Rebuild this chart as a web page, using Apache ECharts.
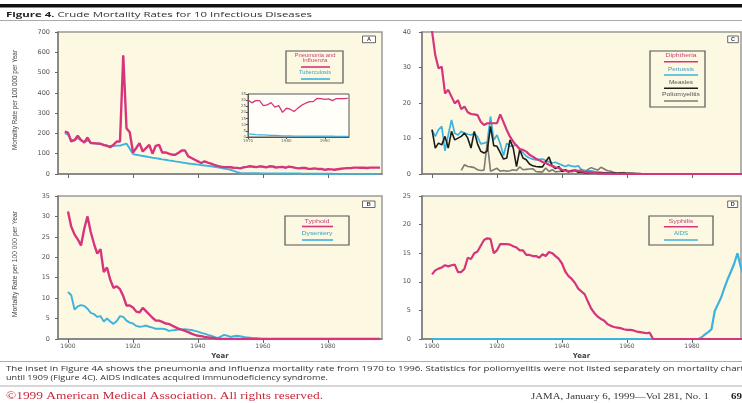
<!DOCTYPE html>
<html><head><meta charset="utf-8">
<script src="https://cdn.jsdelivr.net/npm/echarts@6/dist/echarts.min.js"></script>
<style>html,body{margin:0;padding:0;background:#fff}#c{width:742px;height:403px}</style>
</head><body><div id="c"></div>
<script>
// ---------- DATA ----------
const xTickYears = [1900, 1920, 1940, 1960, 1980];
const insetTickYears = [1970, 1980, 1990];
const endYear = 1996;

// Panel A: pneumonia & influenza, tuberculosis (from 1899 to 1969), inset 1970-1996
const pnStart = 1899;
const pneumonia = [209,204,160,168,188,168,155,180,152,152,
  150,149,142,139,132,145,160,160,585,226,
  206,106,128,152,111,128,144,100,139,144,
  106,106,100,95,95,105,116,116,87,79,
  70,62,54,62,56,51,45,40,36,34,
  34,33,31,30,28,33,35,38,36,34,
  38,36,33,38,37,32,34,35,31,36,34];
const tuberculosis = [200,195,168,165,178,165,158,165,155,150,
  150,148,145,140,137,138,140,140,145,150,
  125,98,95,92,89,86,83,80,78,75,
  72,70,67,65,62,60,57,55,52,50,
  48,46,44,42,40,38,36,33,30,27,
  24,21,15,9,5,4.5,4.2,4.0,3.8,3.6,
  3.4,3.3,3.2,3.1,3.0,2.9,2.8,2.8,2.7,2.7,2.6];
const insetStart = 1970;
const insetPneumonia = [30.2,27.8,29.6,29.6,25.5,26.1,28.0,24.3,25.5,20.0,
  23.4,22.6,20.8,23.5,25.9,27.5,28.8,28.8,31.5,31.3,
  30.7,31.0,29.6,31.3,31.3,31.3,31.5];
const insetTuberculosis = [2.6,2.3,2.0,1.8,1.7,1.6,1.4,1.3,1.2,1.0,
  0.9,0.9,0.8,0.8,0.7,0.7,0.7,0.7,0.7,0.7,
  0.7,0.7,0.7,0.6,0.6,0.5,0.5];

// Panel B (from 1900)
const typhoid = [31.2,27.5,25.6,24.4,22.9,27.0,30.0,26.2,23.3,20.9,
  22.0,16.4,17.5,14.5,12.5,12.9,12.2,10.5,8.2,8.2,
  7.7,6.7,6.5,7.6,6.8,6.0,5.2,4.5,4.5,4.2,
  3.8,3.7,3.3,2.9,2.5,2.3,2.0,1.7,1.3,1.0,
  0.8,0.7,0.5,0.4,0.3,0.2,0.1,0];
const dysentery = [11.5,10.7,7.2,8.0,8.3,8.1,7.4,6.4,6.1,5.4,
  5.6,4.3,5.0,4.3,3.7,4.4,5.6,5.4,4.5,4.0,
  3.8,3.2,3.0,3.1,3.3,3.0,2.8,2.5,2.5,2.5,
  2.4,2.0,2.1,2.2,2.3,2.3,2.4,2.3,2.2,2.0,
  1.8,1.5,1.3,1.0,0.8,0.5,0.2,0.6,1.0,0.8,
  0.5,0.7,0.8,0.7,0.5,0.4,0.3,0.2,0.2,0.1,0];

// Panel C (from 1900; poliomyelitis from 1909)
const diphtheria = [40.3,33.5,29.8,30.2,22.7,23.7,21.8,19.9,20.8,18.3,
  19.0,17.4,16.9,16.8,16.6,14.7,13.8,14.3,14.3,14.3,
  14.3,16.8,14.6,12.4,10.5,9.1,8.0,7.0,6.8,6.3,
  5.4,4.9,4.3,3.9,3.4,3.1,2.6,2.3,1.9,1.7,
  1.2,1.0,0.8,0.7,1.0,0.9,0.7,0.6,0.5,0.4,
  0.3,0.2,0.2,0.1,0.1,0.1,0];
const pertussis = [12.4,10.6,12.5,13.4,6.5,11.0,15.2,11.5,11.0,12.0,
  11.5,11.2,11.0,11.5,10.5,8.5,8.7,9.0,16.2,9.6,
  11.0,8.5,5.2,8.7,7.8,8.0,8.2,6.8,6.0,5.0,
  4.5,4.2,4.0,4.1,4.2,3.8,3.4,3.1,3.3,2.9,
  2.5,2.1,2.5,2.2,2.1,2.3,1.2,1.0,0.9,0.9,
  0.7,0.5,0.4,0.4,0.3,0.3,0.2,0.1,0.1,0.1,0];
const measles = [12.5,7.3,8.7,8.2,10.6,7.3,12.0,9.6,10.1,10.6,
  11.5,10.1,7.3,12.0,8.5,6.4,5.9,6.5,13.4,8.0,
  7.8,6.0,4.2,4.5,9.6,7.3,2.1,6.8,4.5,4.0,
  2.8,2.3,2.1,2.0,2.0,3.5,4.8,2.2,1.5,2.1,
  0.7,1.2,0.7,1.0,1.0,0.5,0.5,0.4,0.4,0.4,
  0.3,0.4,0.4,0.3,0.3,0.2,0.3,0.2,0.3,0.2,
  0.2,0.2,0.2,0.1,0.1,0];
const polioStart = 1909;
const poliomyelitis = [1.0,2.6,2.1,2.0,1.8,1.2,1.0,1.1,9.0,0.8,
  1.2,1.6,0.8,1.0,0.8,0.9,1.2,1.0,2.0,1.2,
  1.3,1.4,1.5,0.7,0.6,0.6,1.7,0.7,1.2,0.6,
  0.7,0.8,1.0,0.5,0.9,1.1,0.8,1.3,0.4,1.3,
  1.8,1.4,1.1,1.9,1.4,0.9,0.8,0.4,0.2,0.2,
  0.4,0.1,0.1,0];

// Panel D (from 1900)
const syphilis = [11.3,12.0,12.3,12.5,12.9,12.7,12.9,13.0,11.7,11.7,
  12.3,14.2,14.0,15.0,15.3,16.3,17.3,17.6,17.5,15.0,
  15.5,16.6,16.6,16.6,16.5,16.2,16.0,15.5,15.5,14.7,
  14.7,14.5,14.5,14.2,14.8,14.5,15.2,15.0,14.5,14.0,
  13.2,11.8,11.0,10.5,9.8,8.8,8.3,7.8,6.5,5.3,
  4.5,3.9,3.5,3.2,2.6,2.3,2.1,2.0,1.9,1.7,
  1.6,1.6,1.5,1.3,1.2,1.1,1.0,1.1,0];
const aidsYears = [1900,1982,1983,1984,1985,1986,1987,1988,1989,1990,1991,1992,1993,1994,1995,1996];
const aids = [0,0,0.3,0.8,1.2,1.7,4.9,6.1,7.3,9.0,10.5,11.8,13.2,15.0,12.6,11.0];

// ---------- helpers ----------
function seq(start, vals) {
  const d = vals.map((v, i) => [start + i, v]);
  if (vals[vals.length - 1] === 0 && d[d.length - 1][0] < endYear) d.push([endYear, 0]);
  return d;
}
const PINK = '#d6357c', BLUE = '#3cb3de', BLACK = '#1c1c1c', GRAY = '#7c7c74';
const CREAM = '#fdf8e1';
const AXC = '#7c7c7c';

const xMinAB = 1900 - 10 / 3.25;
const grids = [
  {left: 58, top: 32, width: 324, height: 142},
  {left: 58, top: 196, width: 324, height: 143},
  {left: 422, top: 32, width: 319, height: 142},
  {left: 422, top: 196, width: 319, height: 143},
  {left: 248, top: 94, width: 101, height: 43}
].map((g, i) => Object.assign(g, {show: true, backgroundColor: i === 4 ? '#fffef8' : CREAM,
  borderColor: i === 4 ? '#555' : '#999', borderWidth: i === 4 ? 1 : 1.5, containLabel: false}));

function mkX(gi, width, labels) {
  return {type: 'value', gridIndex: gi, min: xMinAB, max: xMinAB + width / 3.25,
    axisLine: {show: true, onZero: false, lineStyle: {color: AXC, width: 1.5}},
    axisTick: {show: true, customValues: xTickYears, length: 4, lineStyle: {color: '#666', width: 1}},
    axisLabel: {show: labels, customValues: xTickYears, fontSize: 6, fontFamily: 'DejaVu Sans', color: '#555', margin: 4, formatter: v => String(v)},
    splitLine: {show: false},
    name: labels ? 'Year' : '', nameLocation: 'middle', nameGap: 14,
    nameTextStyle: {fontSize: 7, fontFamily: 'DejaVu Sans', fontWeight: 'bold', color: '#444'}};
}
function mkY(gi, max, interval, margin) {
  return {type: 'value', gridIndex: gi, min: 0, max, interval,
    axisLine: {show: true, lineStyle: {color: AXC, width: 1.5}},
    axisTick: {show: true, length: 3, lineStyle: {color: '#666', width: 1}},
    axisLabel: {fontSize: 6.5, fontFamily: 'DejaVu Sans', color: '#555', margin},
    splitLine: {show: false}};
}
function line(gi, data, color, width, z) {
  return {type: 'line', xAxisIndex: gi, yAxisIndex: gi, data, showSymbol: false, symbol: 'none',
    lineStyle: {color, width}, z: z || 2, animation: false, silent: true, clip: true};
}

// text measuring for fitted graphic text
const mctx = document.createElement('canvas').getContext('2d');
function txt(text, x, y, width, o) {
  o = o || {};
  const size = o.size || 5, fam = o.family || 'Liberation Sans', weight = o.weight || 'normal';
  mctx.font = weight + ' ' + size + 'px ' + fam;
  const w = mctx.measureText(text).width;
  return {type: 'text', x, y, rotation: o.rotation || 0, scaleX: width / w, z: 100,
    style: {text, fontSize: size, fontFamily: fam, fontWeight: weight, fill: o.fill || '#444',
      align: o.align || 'center', textAlign: o.align || 'center', verticalAlign: 'middle', textVerticalAlign: 'middle'}};
}
function seg(x1, x2, y, color, w) {
  return {type: 'line', z: 100, shape: {x1, y1: y, x2, y2: y}, style: {stroke: color, lineWidth: w || 1.6}};
}
function box(x, y, w, h, fill, stroke, lw) {
  return {type: 'rect', z: 99, shape: {x, y, width: w, height: h}, style: {fill: fill || CREAM, stroke: stroke || '#555', lineWidth: lw || 1.2}};
}
const pinkT = '#c4487c', blueT = '#3d9cc6', darkT = '#555';

const graphics = [
  {type: 'rect', shape: {x: 0, y: 4, width: 742, height: 3.6}, style: {fill: '#111'}},
  seg(0, 742, 20.5, '#aaa', 1),
  (function () {
    const size = 7.5, fam = 'Open Sans';
    mctx.font = 'bold ' + size + 'px ' + fam; const w1 = mctx.measureText('Figure 4.').width;
    mctx.font = 'normal ' + size + 'px ' + fam; const w2 = mctx.measureText(' Crude Mortality Rates for 10 Infectious Diseases').width;
    return {type: 'text', x: 6, y: 14.5, scaleX: 306 / (w1 + w2), z: 100,
      style: {text: '{b|Figure 4.} Crude Mortality Rates for 10 Infectious Diseases', fontSize: size, fontFamily: fam, fill: '#333',
        align: 'left', verticalAlign: 'middle', textAlign: 'left', textVerticalAlign: 'middle',
        rich: {b: {fontWeight: 'bold', fontSize: size, fontFamily: fam, fill: '#222'}}}};
  })(),
  // y-axis titles
  txt('Mortality Rate per 100 000 per Year', 15, 100, 100, {size: 7.5, rotation: Math.PI / 2, fill: '#444'}),
  txt('Mortality Rate per 100 000 per Year', 15, 264, 106, {size: 7.5, rotation: Math.PI / 2, fill: '#444'}),
  // panel letters
  box(362.5, 36, 13, 6.7, '#fff', '#444', 0.8), txt('A', 369, 39.4, 4, {size: 5.5, weight: 'bold', fill: '#333'}),
  box(362.5, 201, 12.5, 6.5, '#fff', '#444', 0.8), txt('B', 368.7, 204.3, 4, {size: 5.5, weight: 'bold', fill: '#333'}),
  box(727.7, 36, 10.6, 6.7, '#fff', '#444', 0.8), txt('C', 733, 39.4, 4, {size: 5.5, weight: 'bold', fill: '#333'}),
  box(727.7, 201, 10, 6.5, '#fff', '#444', 0.8), txt('D', 732.7, 204.3, 4, {size: 5.5, weight: 'bold', fill: '#333'}),
  // legend A
  box(286, 51, 57, 32),
  txt('Pneumonia and', 315, 55.5, 41, {fill: pinkT}), txt('Influenza', 315, 61, 25, {fill: pinkT}),
  seg(301, 330, 67, PINK), txt('Tuberculosis', 315, 73, 32, {fill: blueT}), seg(301, 330, 79, BLUE),
  // legend B
  box(285, 216, 64, 29),
  txt('Typhoid', 317, 221.3, 25, {fill: pinkT}), seg(302, 333, 226.5, PINK),
  txt('Dysentery', 317, 234, 31, {fill: blueT}), seg(302, 333, 240, BLUE),
  // legend C
  box(650, 51, 55, 56),
  txt('Diphtheria', 681, 56, 31, {fill: pinkT}), seg(664, 698, 61.7, PINK),
  txt('Pertussis', 681, 69.3, 26, {fill: blueT}), seg(664, 698, 75, BLUE),
  txt('Measles', 681, 82.7, 24, {fill: darkT}), seg(664, 698, 88.3, BLACK),
  txt('Poliomyelitis', 681, 95, 38, {fill: darkT}), seg(664, 698, 101, GRAY),
  // legend D
  box(649, 216, 64, 29),
  txt('Syphilis', 681, 221.7, 25, {fill: pinkT}), seg(664, 698, 226.7, PINK),
  txt('AIDS', 681, 234, 14, {fill: blueT}), seg(664, 698, 240, BLUE),
  // caption and footer
  seg(0, 742, 361.5, '#999', 0.8),
  txt('The inset in Figure 4A shows the pneumonia and influenza mortality rate from 1970 to 1996. Statistics for poliomyelitis were not listed separately on mortality chart',
    6, 368.5, 738, {size: 7.5, family: 'Open Sans', fill: '#333', align: 'left'}),
  txt('until 1909 (Figure 4C). AIDS indicates acquired immunodeficiency syndrome.',
    6, 377.5, 322, {size: 7.5, family: 'Open Sans', fill: '#333', align: 'left'}),
  seg(0, 742, 386, '#999', 0.8),
  txt('©1999 American Medical Association. All rights reserved.', 6, 396.5, 317, {size: 9.5, family: 'Liberation Serif', fill: '#c8283a', align: 'left'}),
  txt('JAMA, January 6, 1999—Vol 281, No. 1', 531, 396.5, 178, {size: 8.5, family: 'Liberation Serif', fill: '#333', align: 'left'}),
  txt('69', 731, 396.5, 11, {size: 8.5, family: 'Liberation Serif', weight: 'bold', fill: '#222', align: 'left'})
];

const option = {
  animation: false,
  backgroundColor: '#fff',
  grid: grids,
  xAxis: [
    mkX(0, 324, false), mkX(1, 324, true), mkX(2, 319, false), mkX(3, 319, true),
    {type: 'value', gridIndex: 4, min: 1970, max: 1996.3,
      axisLine: {show: true, onZero: false, lineStyle: {color: '#555', width: 1}},
      axisTick: {show: true, customValues: insetTickYears, length: 2, lineStyle: {color: '#555'}},
      axisLabel: {customValues: insetTickYears, fontSize: 4, fontFamily: 'DejaVu Sans', color: '#666', margin: 2, formatter: v => String(v)},
      splitLine: {show: false}}
  ],
  yAxis: [
    mkY(0, 700, 100, 8), mkY(1, 35, 5, 8), mkY(2, 40, 10, 11), mkY(3, 25, 5, 11),
    {type: 'value', gridIndex: 4, min: 0, max: 35, interval: 5,
      axisLine: {show: true, lineStyle: {color: '#555', width: 1}},
      axisTick: {show: true, length: 2, lineStyle: {color: '#555'}},
      axisLabel: {fontSize: 4, fontFamily: 'DejaVu Sans', color: '#666', margin: 2},
      splitLine: {show: false}}
  ],
  series: [
    line(0, seq(pnStart, tuberculosis).concat(seq(insetStart, insetTuberculosis)), BLUE, 1.9, 2),
    line(0, seq(pnStart, pneumonia).concat(seq(insetStart, insetPneumonia)), PINK, 2.4, 3),
    line(1, seq(1900, dysentery), BLUE, 1.9, 2),
    line(1, seq(1900, typhoid), PINK, 2.4, 3),
    line(2, seq(1900, pertussis), BLUE, 1.7, 2),
    line(2, seq(polioStart, poliomyelitis), GRAY, 1.6, 3),
    line(2, seq(1900, measles), BLACK, 1.6, 4),
    line(2, seq(1900, diphtheria), PINK, 2.2, 5),
    line(3, aidsYears.map((y, i) => [y, aids[i]]), BLUE, 2.2, 2),
    line(3, seq(1900, syphilis), PINK, 2.2, 3),
    line(4, seq(insetStart, insetTuberculosis), BLUE, 1.2, 2),
    line(4, seq(insetStart, insetPneumonia), PINK, 1.3, 3)
  ],
  graphic: {elements: graphics}
};
const chart = echarts.init(document.getElementById('c'), null, {renderer: 'canvas'});
chart.setOption(option);
</script></body></html>
